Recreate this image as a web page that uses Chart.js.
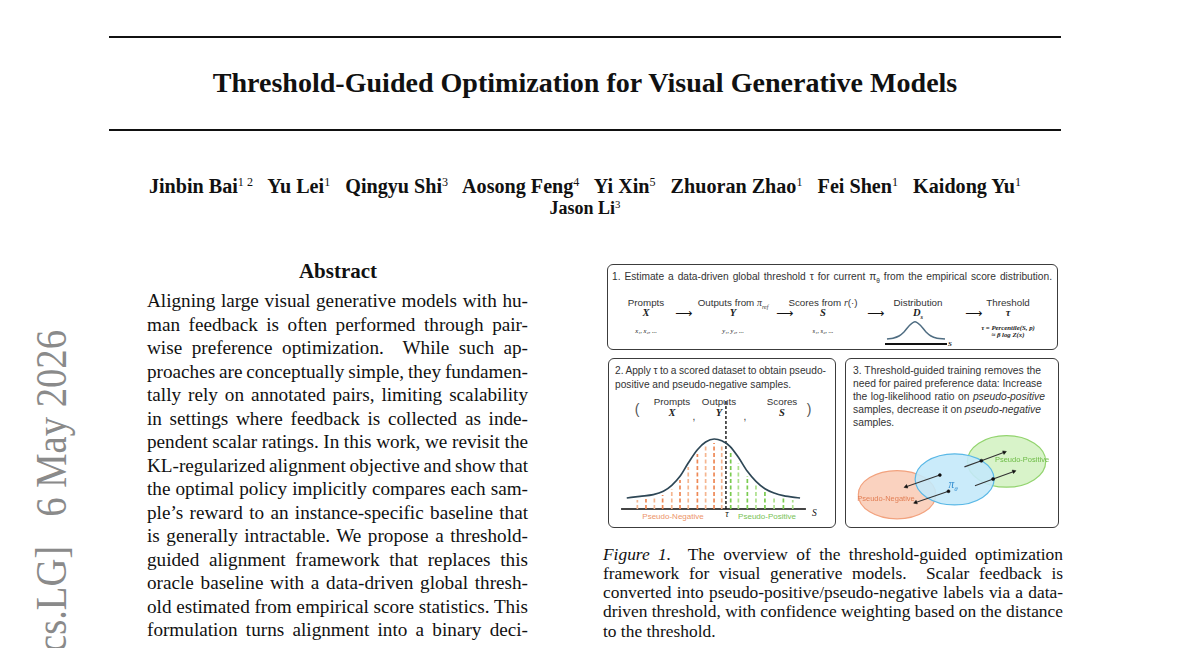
<!DOCTYPE html>
<html>
<head>
<meta charset="utf-8">
<script src="https://cdn.jsdelivr.net/npm/chart.js@4.4.0/dist/chart.umd.min.js"></script>
<style>
body{margin:0;width:1200px;height:648px;overflow:hidden;background:#fff;position:relative;font-family:"Liberation Serif",serif;color:#111}
.t{position:absolute;white-space:pre;line-height:1}
.c{transform:translateX(-50%)}
.rule{position:absolute;left:109px;width:952px;height:2px;background:#111}
.box{position:absolute;border:1.5px solid #3c3c3c;border-radius:6px;box-sizing:border-box}
.sf{font-family:"Liberation Sans",sans-serif;color:#333}
.m{font-family:"Liberation Serif",serif;font-style:italic;font-weight:bold;color:#222}
.ab{font-size:19.2px}
.cap{font-size:17.4px}
sup{font-size:60%;font-weight:normal;vertical-align:0.55em;line-height:0}
canvas{position:absolute}
</style>
</head>
<body>
<div class="rule" style="top:36px"></div>
<div class="rule" style="top:129px"></div>
<div class="t c fit" data-w="745" style="left:585px;top:69px;font-size:27px;font-weight:bold">Threshold-Guided Optimization for Visual Generative Models</div>
<div class="t c fit" data-w="873" style="left:585px;top:176px;font-size:18px;font-weight:bold">Jinbin Bai<sup>1 2</sup>   Yu Lei<sup>1</sup>   Qingyu Shi<sup>3</sup>   Aosong Feng<sup>4</sup>   Yi Xin<sup>5</sup>   Zhuoran Zhao<sup>1</sup>   Fei Shen<sup>1</sup>   Kaidong Yu<sup>1</sup></div>
<div class="t c" style="left:585px;top:199px;font-size:18px;font-weight:bold">Jason Li<sup>3</sup></div>

<div class="t" id="stamp" style="left:30px;top:652px;font-size:44px;color:#8a8a8a;transform-origin:0 0">cs.LG]   6 May 2026</div>

<div class="t c" style="left:338px;top:260.5px;font-size:21px;font-weight:bold">Abstract</div>
<div id="abstract"></div>

<!-- figure panels -->
<div class="box" style="left:607px;top:264px;width:451px;height:86px"></div>
<div class="box" style="left:608px;top:358px;width:228px;height:170px"></div>
<div class="box" style="left:845px;top:358px;width:214px;height:170px"></div>

<div class="t sf just" data-w="440" style="left:612px;top:271.5px;font-size:10.2px">1. Estimate a data-driven global threshold τ for current π<sub style="font-size:6.5px">θ</sub> from the empirical score distribution.</div>

<div class="t sf c" style="left:646px;top:297.5px;font-size:9.8px">Prompts</div>
<div class="t m c" style="left:646px;top:308px;font-size:10.5px">X</div>
<div class="t c" style="left:646px;top:328px;font-size:6.5px;font-style:italic">x₁, x₂, ...</div>
<div class="t sf c" style="left:733px;top:297.5px;font-size:9.8px">Outputs from <i style="font-family:'Liberation Serif'">π<sub style="font-size:6px">ref</sub></i></div>
<div class="t m c" style="left:733px;top:308px;font-size:10.5px">Y</div>
<div class="t c" style="left:733px;top:328px;font-size:6.5px;font-style:italic">y₁, y₂, ...</div>
<div class="t sf c" style="left:823px;top:297.5px;font-size:9.8px">Scores from <i style="font-family:'Liberation Serif'">r</i>(·)</div>
<div class="t m c" style="left:823px;top:308px;font-size:10.5px">S</div>
<div class="t c" style="left:823px;top:328px;font-size:6.5px;font-style:italic">s₁, s₂, ...</div>
<div class="t sf c" style="left:918px;top:297.5px;font-size:9.8px">Distribution</div>
<div class="t m c" style="left:918px;top:308px;font-size:10.5px">D<sub style="font-size:6.5px">s</sub></div>
<div class="t sf c" style="left:1008px;top:297.5px;font-size:9.8px">Threshold</div>
<div class="t m c" style="left:1008px;top:308px;font-size:10.5px">τ</div>
<div class="t m c" style="left:1008px;top:325.2px;font-size:6.8px">τ = Percentile(S, p)</div>
<div class="t m c" style="left:1008px;top:331.8px;font-size:6.8px">≈ β log Z(x)</div>
<div class="t m" style="left:948px;top:341px;font-size:7px">S</div>
<div class="t" style="left:675px;top:307px;font-size:12px;font-family:'DejaVu Sans'">⟶</div>
<div class="t" style="left:776px;top:307px;font-size:12px;font-family:'DejaVu Sans'">⟶</div>
<div class="t" style="left:867px;top:307px;font-size:12px;font-family:'DejaVu Sans'">⟶</div>
<div class="t" style="left:965px;top:307px;font-size:12px;font-family:'DejaVu Sans'">⟶</div>

<div class="t sf just" data-w="211" style="left:615px;top:366.3px;font-size:10.2px">2. Apply τ to a scored dataset to obtain pseudo-</div>
<div class="t sf" style="left:615px;top:379.6px;font-size:10.2px">positive and pseudo-negative samples.</div>
<div class="t sf c" style="left:637px;top:402px;font-size:14px;color:#555">(</div>
<div class="t sf c" style="left:809px;top:402px;font-size:14px;color:#555">)</div>
<div class="t sf c" style="left:672px;top:396.5px;font-size:9.8px">Prompts</div>
<div class="t m c" style="left:672px;top:407.8px;font-size:10.5px">X</div>
<div class="t sf c" style="left:694px;top:411.5px;font-size:10px;color:#333">,</div>
<div class="t sf c" style="left:719px;top:396.5px;font-size:9.8px">Outputs</div>
<div class="t m c" style="left:719px;top:407.8px;font-size:10.5px">Y</div>
<div class="t sf c" style="left:745px;top:411.5px;font-size:10px;color:#333">,</div>
<div class="t sf c" style="left:782px;top:396.5px;font-size:9.8px">Scores</div>
<div class="t m c" style="left:782px;top:407.8px;font-size:10.5px">S</div>
<div class="t sf c" style="left:673px;top:512.5px;font-size:8px;color:#ec9468">Pseudo-Negative</div>
<div class="t c" style="left:727px;top:510px;font-size:9.5px;font-style:italic">τ</div>
<div class="t sf c" style="left:767px;top:512.5px;font-size:8px;color:#78c255">Pseudo-Positive</div>
<div class="t" style="left:812px;top:509px;font-size:9.5px;font-style:italic">S</div>

<div class="t sf just" data-w="188" style="left:853px;top:366.3px;font-size:10.3px">3. Threshold-guided training removes the</div>
<div class="t sf just" data-w="189" style="left:853px;top:379.2px;font-size:10.3px">need for paired preference data: Increase</div>
<div class="t sf just" data-w="192" style="left:853px;top:392.1px;font-size:10.3px">the log-likelihood ratio on <i>pseudo-positive</i></div>
<div class="t sf just" data-w="188" style="left:853px;top:405px;font-size:10.3px">samples, decrease it on <i>pseudo-negative</i></div>
<div class="t sf" style="left:853px;top:417.9px;font-size:10.3px">samples.</div>

<canvas id="mini" width="75" height="33" style="left:880px;top:315px"></canvas>
<canvas id="dist" width="210" height="120" style="left:612px;top:395px"></canvas>
<canvas id="venn" width="205" height="102" style="left:850px;top:425px"></canvas>

<div class="t sf c" style="left:886px;top:495px;font-size:7.5px;color:#e27f55">Pseudo-Negative</div>
<div class="t sf c" style="left:1022px;top:456px;font-size:7.5px;color:#6dbb45">Pseudo-Positive</div>
<div class="t c" style="left:953px;top:479px;font-size:11.5px;font-style:italic;color:#2f8bcf">π<sub style="font-size:7px">θ</sub></div>

<div id="caption"></div>

<script>
// abstract + caption lines (as broken in the pdf)
const abstractLines = [
  'Aligning large visual generative models with hu-',
  'man feedback is often performed through pair-',
  'wise preference optimization.  While such ap-',
  'proaches are conceptually simple, they fundamen-',
  'tally rely on annotated pairs, limiting scalability',
  'in settings where feedback is collected as inde-',
  'pendent scalar ratings. In this work, we revisit the',
  'KL-regularized alignment objective and show that',
  'the optimal policy implicitly compares each sam-',
  'ple\u2019s reward to an instance-specific baseline that',
  'is generally intractable. We propose a threshold-',
  'guided alignment framework that replaces this',
  'oracle baseline with a data-driven global thresh-',
  'old estimated from empirical score statistics. This',
  'formulation turns alignment into a binary deci-'
];
const captionLines = [
  '<i>Figure 1.</i>  The overview of the threshold-guided optimization',
  'framework for visual generative models.  Scalar feedback is',
  'converted into pseudo-positive/pseudo-negative labels via a data-',
  'driven threshold, with confidence weighting based on the distance',
  'to the threshold.'
];

// panel 2: score distribution (s along the axis, h = density height)
const curveS = [2.6, 9.8, 17.1, 22.6, 27.2, 31.7, 36.2, 41.2, 45.7, 50.4, 54.5, 59.0, 63.6, 68.5, 73.2, 78.1, 83.1, 88.1, 97.3];
const curveH = [11, 12.7, 14.3, 17.7, 23.7, 32.7, 46, 59.3, 67, 70, 68.3, 62.7, 51.7, 37.7, 27.7, 20.3, 16, 13.3, 11];
const negS = [8.4, 13.1, 17.7, 22.2, 27.2, 31.7, 36.2, 41.2, 45.7, 50.3, 54.5];
const negH = [9, 10, 11, 14, 20, 29, 42, 55, 63, 66, 63];
const posS = [59.4, 63.6, 68.5, 73.2, 78.1, 83.1, 88.2, 93.3];
const posH = [56, 46, 33, 24, 17, 13, 11, 9];
const tau = 56.8;

// panel 1: small distribution sketch
const miniS = [2, 8, 14, 19, 24, 30, 36, 41, 46, 52, 60];
const miniH = [5, 5.8, 8, 12, 18, 22.3, 18, 12, 8, 5.8, 5];

// panel 3: sets (negative, positive, policy) and update arrows
const setX = [44.5, 159, 104.7];
const setY = [30.5, 67, 47.3];
const setRX = [40.5, 41, 41.3];
const setRY = [26.5, 28.3, 28];
const arrowFrom = [[89.3, 52], [98.3, 34.3], [115, 61], [126, 40.3]];
const arrowMid = [null, null, [132.7, 67.7], [145, 47.7]];
const arrowTo = [[54, 39.3], [64, 22], [156.7, 77], [166.7, 56]];

const setFill = ['rgba(250,208,188,0.95)', 'rgba(214,242,198,0.95)', 'rgba(196,233,250,0.9)'];
const setLine = ['#f2a27e', '#93d46f', '#5ab8e6'];

function addLines(id, lines, left, top, step, w, cls) {
  const host = document.getElementById(id);
  lines.forEach((txt, i) => {
    const d = document.createElement('div');
    d.className = 't ' + cls + (i < lines.length - 1 || id === 'abstract' ? ' just' : '');
    d.dataset.w = w;
    d.style.left = left + 'px';
    d.style.top = (top + i * step) + 'px';
    d.innerHTML = txt;
    host.appendChild(d);
  });
}
addLines('abstract', abstractLines, 147, 291.4, 23.5, 381, 'ab');
addLines('caption', captionLines, 603, 545.5, 19.3, 460, 'cap');

// stretch word gaps so each line hits its measured width
document.querySelectorAll('.just').forEach(el => {
  const w = parseFloat(el.dataset.w);
  const nat = el.getBoundingClientRect().width;
  const n = (el.textContent.match(/ /g) || []).length;
  if (n) el.style.wordSpacing = ((w - nat) / n) + 'px';
});
document.querySelectorAll('.fit').forEach(el => {
  const w = parseFloat(el.dataset.w);
  const nat = el.getBoundingClientRect().width;
  el.style.fontSize = (parseFloat(getComputedStyle(el).fontSize) * w / nat) + 'px';
});
// side stamp runs bottom-to-top from y=652 up to y=330
const stamp = document.getElementById('stamp');
stamp.style.transform = 'rotate(-90deg) scaleX(' + (322 / stamp.getBoundingClientRect().width) + ')';

const base = {
  type: 'scatter',
  options: {
    responsive: false,
    animation: false,
    layout: { padding: 0 },
    plugins: { legend: { display: false }, tooltip: { enabled: false } },
    elements: { point: { radius: 0 } }
  }
};
const seg = (pts, color, width, dash) => ({
  data: pts, showLine: true, borderColor: color, borderWidth: width,
  borderDash: dash || [], pointRadius: 0, clip: false
});
const xy = (xs, ys) => xs.map((x, i) => ({ x: x, y: ys[i] }));

// panel 2 chart
const barSets = [];
negS.forEach((s, i) => barSets.push(seg([{ x: s, y: 0 }, { x: s, y: negH[i] }], i % 2 ? '#ee8855' : '#f5b690', 1.7, [4, 2.5])));
posS.forEach((s, i) => barSets.push(seg([{ x: s, y: 0 }, { x: s, y: posH[i] }], i % 2 ? '#ace08c' : '#7acb50', 1.7, [4, 2.5])));
new Chart(document.getElementById('dist'), {
  ...base,
  data: {
    datasets: [
      ...barSets,
      Object.assign(seg(xy(curveS, curveH), '#2e4756', 1.7), { cubicInterpolationMode: 'monotone' }),
      seg([{ x: tau, y: 0 }, { x: tau, y: 109 }], '#111', 1.4, [3, 2]),
      seg([{ x: -0.5, y: 0 }, { x: 100.5, y: 0 }], '#444', 2)
    ]
  },
  options: {
    ...base.options,
    scales: {
      x: { type: 'linear', display: false, min: -5.46, max: 109.29 },
      y: { type: 'linear', display: false, min: -6, max: 114 }
    }
  }
});

// panel 1 chart
new Chart(document.getElementById('mini'), {
  ...base,
  data: {
    datasets: [
      Object.assign(seg(xy(miniS, miniH), '#4f6d82', 1.5), { cubicInterpolationMode: 'monotone' }),
      seg([{ x: 0, y: 0 }, { x: 62, y: 0 }], '#111', 2)
    ]
  },
  options: {
    ...base.options,
    scales: {
      x: { type: 'linear', display: false, min: -5, max: 70 },
      y: { type: 'linear', display: false, min: -4, max: 29 }
    }
  }
});

// panel 3 chart: ellipses drawn on the scales, arrows as datasets
const ellipses = {
  id: 'ellipses',
  beforeDatasetsDraw(chart) {
    const { ctx, scales: { x, y } } = chart;
    setX.forEach((cx, i) => {
      const px = x.getPixelForValue(cx), py = y.getPixelForValue(setY[i]);
      const rx = Math.abs(x.getPixelForValue(cx + setRX[i]) - px);
      const ry = Math.abs(y.getPixelForValue(setY[i] + setRY[i]) - py);
      ctx.save();
      ctx.beginPath();
      ctx.ellipse(px, py, rx, ry, 0, 0, Math.PI * 2);
      ctx.fillStyle = setFill[i];
      ctx.fill();
      ctx.lineWidth = 1.2;
      ctx.strokeStyle = setLine[i];
      ctx.stroke();
      ctx.restore();
    });
  }
};
const arrowSets = arrowFrom.map((a, i) => {
  const pts = [{ x: a[0], y: a[1] }];
  if (arrowMid[i]) pts.push({ x: arrowMid[i][0], y: arrowMid[i][1] });
  pts.push({ x: arrowTo[i][0], y: arrowTo[i][1] });
  const last = pts[pts.length - 1], prev = pts[pts.length - 2];
  const ang = Math.atan2(-(last.y - prev.y), last.x - prev.x) * 180 / Math.PI + 90;
  const d = seg(pts, '#333', 1.1);
  d.pointStyle = pts.map((p, j) => j === pts.length - 1 ? 'triangle' : 'circle');
  d.rotation = pts.map((p, j) => j === pts.length - 1 ? ang : 0);
  d.pointRadius = pts.map((p, j) => j === 0 ? (arrowMid[i] ? 0 : 1.5) : (j === pts.length - 1 ? 2.2 : 1.6));
  d.pointBackgroundColor = '#111';
  d.pointBorderColor = '#111';
  d.pointBorderWidth = 0.5;
  return d;
});
new Chart(document.getElementById('venn'), {
  ...base,
  data: { datasets: arrowSets },
  options: {
    ...base.options,
    scales: {
      x: { type: 'linear', display: false, min: 0, max: 205 },
      y: { type: 'linear', display: false, min: 0, max: 102 }
    }
  },
  plugins: [ellipses]
});
</script>
</body>
</html>
